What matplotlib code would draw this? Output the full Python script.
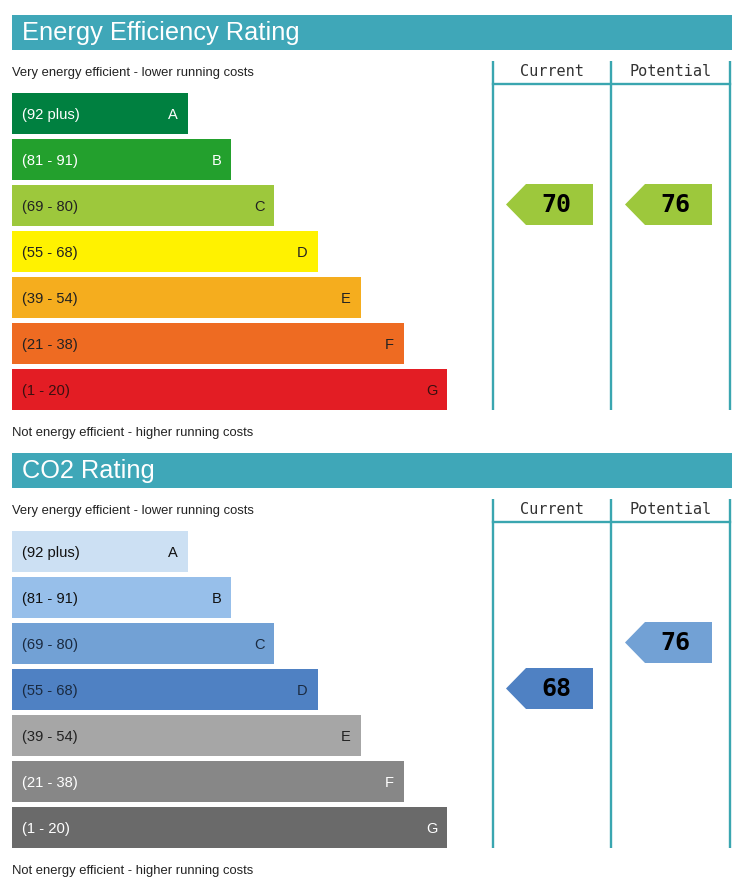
import matplotlib.pyplot as plt
from matplotlib.patches import Rectangle, Polygon

# rating bands, top (best) to bottom (worst)
bands = ['A', 'B', 'C', 'D', 'E', 'F', 'G']
ranges = ['(92 plus)', '(81 - 91)', '(69 - 80)', '(55 - 68)', '(39 - 54)', '(21 - 38)', '(1 - 20)']
lower = [92, 81, 69, 55, 39, 21, 1]

energy_colors = ['#008040', '#23a02d', '#9dc83c', '#fff200', '#f5ad1e', '#ee6b22', '#e31d24']
energy_text = ['white', 'white', '#222222', '#222222', '#222222', '#222222', '#3a1010']
co2_colors = ['#cce0f3', '#97bfea', '#72a1d5', '#4f81c3', '#a6a6a6', '#878787', '#6a6a6a']
co2_text = ['#111111', '#111111', '#1a2a40', '#1a2a40', '#222222', 'white', 'white']

sections = [
    ('Energy Efficiency Rating', energy_colors, energy_text, 70, 76),
    ('CO2 Rating', co2_colors, co2_text, 68, 76),
]

teal = '#3fa7b8'
line_c = '#3aa6b0'

fig = plt.figure(figsize=(7.47, 8.96), dpi=100)
ax = fig.add_axes([0, 0, 1, 1])
ax.set_xlim(0, 747)
ax.set_ylim(896, 0)
ax.axis('off')

font = ['Liberation Sans', 'DejaVu Sans']
mono = 'DejaVu Sans Mono'


def band_of(v):
    for i, lo in enumerate(lower):
        if v >= lo:
            return i
    return len(bands) - 1


def arrow(x0, y0, value, color):
    h = 41
    w = 87
    pts = [(x0, y0 + h / 2), (x0 + 20, y0), (x0 + w, y0), (x0 + w, y0 + h), (x0 + 20, y0 + h)]
    ax.add_patch(Polygon(pts, closed=True, facecolor=color, edgecolor='none'))
    ax.text(x0 + 50, y0 + h / 2 + 1, str(value), ha='center', va='center',
            fontsize=18, fontweight='bold', family=mono, color='black')


for k, (title, colors, tcols, cur, pot) in enumerate(sections):
    off = 438 * k
    # header
    ax.add_patch(Rectangle((12, 15 + off), 720, 35, facecolor=teal, edgecolor='none'))
    ax.text(22, 33 + off, title, ha='left', va='center', fontsize=18.3, color='white', family=font)
    ax.text(12, 73 + off, 'Very energy efficient - lower running costs', ha='left', va='center',
            fontsize=9.4, color='#222222', family=font)
    ax.text(12, 433 + off, 'Not energy efficient - higher running costs', ha='left', va='center',
            fontsize=9.4, color='#222222', family=font)

    for i, b in enumerate(bands):
        y = 93 + 46 * i + off
        right = 188 + 43.2 * i
        ax.add_patch(Rectangle((12, y), right - 12, 41, facecolor=colors[i], edgecolor='none'))
        ax.text(22, y + 22, ranges[i], ha='left', va='center', fontsize=10.6,
                color=tcols[i], family=font)
        ax.text(right - 10, y + 22, b, ha='right', va='center', fontsize=10.5,
                color=tcols[i], family=font)

    # columns
    for x in [493, 611, 730]:
        ax.plot([x, x], [61 + off, 410 + off], color=line_c, lw=1.7, solid_capstyle='butt')
    ax.plot([493, 730], [84 + off, 84 + off], color=line_c, lw=1.7)
    ax.text(552, 72 + off, 'Current', ha='center', va='center', fontsize=11, family=mono, color='#333333')
    ax.text(671, 72 + off, 'Potential', ha='center', va='center', fontsize=11, family=mono, color='#333333')

    ci = band_of(cur)
    pi = band_of(pot)
    arrow(506, 93 + 46 * ci + off - 1, cur, colors[ci])
    arrow(625, 93 + 46 * pi + off - 1, pot, colors[pi])

fig.savefig('out.png', dpi=100, facecolor='white')
